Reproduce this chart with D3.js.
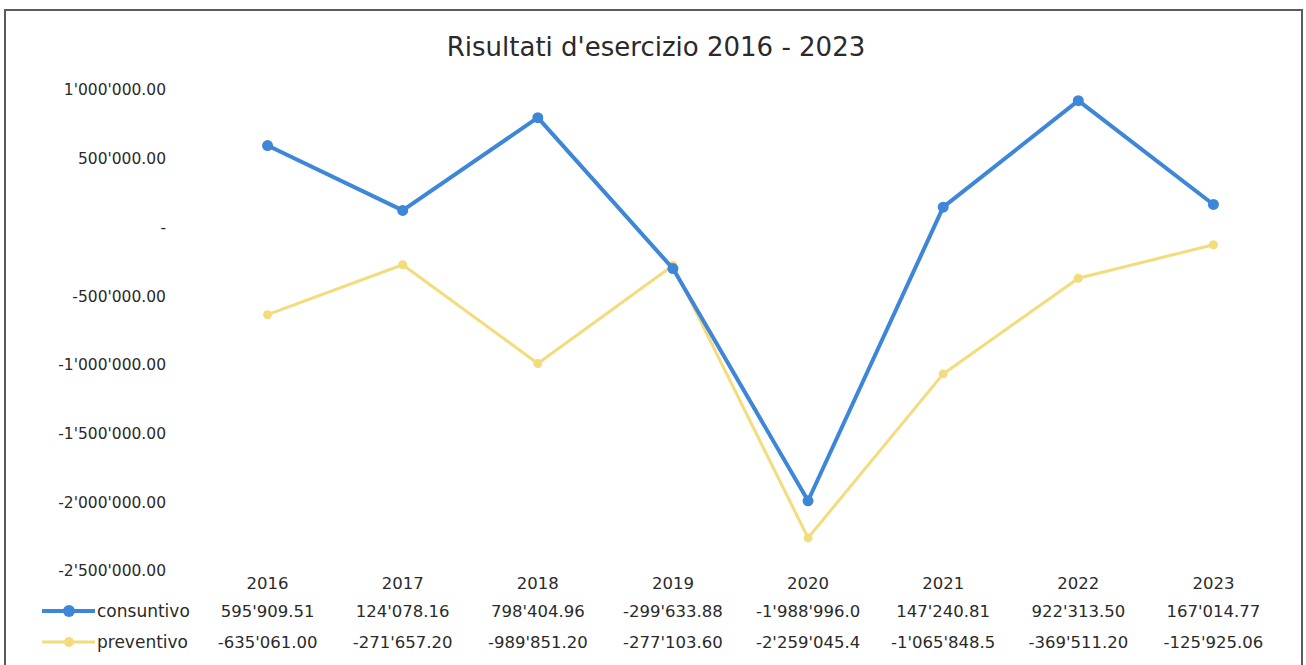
<!DOCTYPE html>
<html>
<head>
<meta charset="utf-8">
<script src="https://cdn.jsdelivr.net/npm/d3@7"></script>
<style>
  body { margin: 0; background: #fff; }
  svg text { font-family: "DejaVu Sans", sans-serif; fill: #2a2a2a; }
</style>
</head>
<body>
<div id="chart-container"></div>
<script>
const WIDTH = 1306, HEIGHT = 665;

const years = ["2016", "2017", "2018", "2019", "2020", "2021", "2022", "2023"];
const consuntivo = [595909.51, 124078.16, 798404.96, -299633.88, -1988996.0, 147240.81, 922313.50, 167014.77];
const preventivo = [-635061.00, -271657.20, -989851.20, -277103.60, -2259045.4, -1065848.5, -369511.20, -125925.06];
// text as shown in the data table under the chart (some cells are cut off)
const consuntivoLabels = ["595'909.51", "124'078.16", "798'404.96", "-299'633.88", "-1'988'996.0", "147'240.81", "922'313.50", "167'014.77"];
const preventivoLabels = ["-635'061.00", "-271'657.20", "-989'851.20", "-277'103.60", "-2'259'045.4", "-1'065'848.5", "-369'511.20", "-125'925.06"];
const yTicks = [1000000, 500000, 0, -500000, -1000000, -1500000, -2000000, -2500000];

const series = [
    { name: "consuntivo", values: consuntivo, labels: consuntivoLabels, color: "#3d86d8", width: 4, r: 5.5 },
    { name: "preventivo", values: preventivo, labels: preventivoLabels, color: "#f3dc7c", width: 3, r: 4.5 }
];

const locale = d3.formatLocale({ decimal: ".", thousands: "'", grouping: [3], currency: ["", ""], minus: "-" });
const fmt = locale.format(",.2f");

let svg = d3.select("#chart-container").append("svg")
    .attr("width", WIDTH).attr("height", HEIGHT);

// chart frame
svg.append("rect")
    .attr("x", 5).attr("y", 10)
    .attr("width", 1297).attr("height", 670)
    .attr("fill", "none").attr("stroke", "#5a5a5a").attr("stroke-width", 2);

svg.append("text")
    .attr("x", 656).attr("y", 56)
    .attr("text-anchor", "middle")
    .style("font-size", "26px")
    .text("Risultati d'esercizio 2016 - 2023");

let x = d3.scaleBand().domain(years).range([200, 1281]);
let y = d3.scaleLinear().domain([-2500000, 1000000]).range([571, 90]);
const cx = (d) => x(d) + x.bandwidth() / 2;

// y axis, labels only
let yAxis = svg.append("g")
    .attr("transform", "translate(170,0)")
    .call(d3.axisLeft(y).tickValues(yTicks).tickSize(0).tickPadding(4)
        .tickFormat((d) => d === 0 ? "-" : fmt(d)));
yAxis.select(".domain").remove();
yAxis.selectAll("text")
    .attr("fill", "#2a2a2a")
    .style("font-family", "DejaVu Sans, sans-serif")
    .style("font-size", "15.5px");

// lines + markers
series.slice().reverse().forEach((s) => {
    let pts = years.map((yr, i) => ({ year: yr, value: s.values[i] }));
    let line = d3.line().x((d) => cx(d.year)).y((d) => y(d.value));
    svg.append("path")
        .datum(pts)
        .attr("d", line)
        .attr("fill", "none")
        .attr("stroke", s.color)
        .attr("stroke-width", s.width)
        .attr("stroke-linejoin", "round");
    svg.append("g").selectAll("circle").data(pts).enter().append("circle")
        .attr("cx", (d) => cx(d.year))
        .attr("cy", (d) => y(d.value))
        .attr("r", s.r)
        .attr("fill", s.color);
});

// data table
svg.append("g").selectAll("text").data(years).enter().append("text")
    .attr("x", (d) => cx(d))
    .attr("y", 589)
    .attr("text-anchor", "middle")
    .style("font-size", "16.5px")
    .text((d) => d);

series.forEach((s, k) => {
    let rowY = 617 + k * 31;
    let row = svg.append("g");
    row.append("line")
        .attr("x1", 42).attr("x2", 95)
        .attr("y1", rowY - 6).attr("y2", rowY - 6)
        .attr("stroke", s.color).attr("stroke-width", s.width);
    row.append("circle")
        .attr("cx", 69).attr("cy", rowY - 6).attr("r", s.r + 0.5)
        .attr("fill", s.color);
    row.append("text")
        .attr("x", 97).attr("y", rowY)
        .style("font-size", "17px")
        .text(s.name);
    row.selectAll("text.val").data(s.labels).enter().append("text")
        .attr("class", "val")
        .attr("x", (d, i) => cx(years[i]))
        .attr("y", rowY)
        .attr("text-anchor", "middle")
        .style("font-size", "16.5px")
        .text((d) => d);
});
</script>
</body>
</html>
